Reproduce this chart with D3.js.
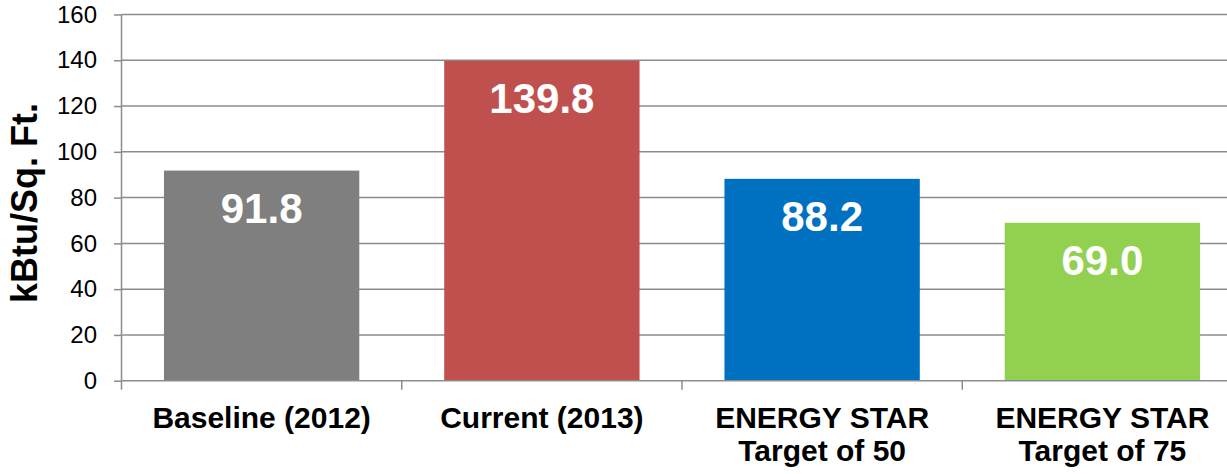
<!DOCTYPE html>
<html><head><meta charset="utf-8">
<script src="https://cdn.jsdelivr.net/npm/d3@7"></script>
<style>html,body{margin:0;padding:0;background:#fff;overflow:hidden}</style>
</head><body>
<svg id="c" width="1227" height="474"></svg>
<script>
const categories = [["Baseline (2012)"], ["Current (2013)"], ["ENERGY STAR", "Target of 50"], ["ENERGY STAR", "Target of 75"]];
const values = [91.8, 139.8, 88.2, 69.0];
const colors = ["#7f7f7f", "#c0504d", "#0070c0", "#92d050"];
const yTicks = [0, 20, 40, 60, 80, 100, 120, 140, 160];
const yLabel = "kBtu/Sq. Ft.";

(function() {
const svg = d3.select("#c");
const font = "'Liberation Sans', Arial, sans-serif";
const pL = 121.5, pR = 1242.5, pT = 14.5, pB = 380.7;
const x = d3.scaleBand().domain(d3.range(categories.length)).range([pL, pR]).paddingInner(0.303).paddingOuter(0.1515);
const y = d3.scaleLinear().domain([0, 160]).range([pB, pT]);
const axisColor = "#8c8c8c";

// gridlines
svg.append("g").selectAll("line").data(yTicks.filter(d => d > 0)).join("line")
  .attr("x1", pL).attr("x2", pR).attr("y1", d => y(d)).attr("y2", d => y(d))
  .attr("stroke", axisColor).attr("stroke-width", 1.5);

// bars
svg.append("g").selectAll("rect").data(values).join("rect")
  .attr("x", (d, i) => x(i)).attr("width", x.bandwidth())
  .attr("y", d => y(d)).attr("height", d => y(0) - y(d))
  .attr("fill", (d, i) => colors[i]);

// y axis
const yAxis = svg.append("g").attr("transform", `translate(${pL},0)`)
  .call(d3.axisLeft(y).tickValues(yTicks).tickSize(7.5).tickPadding(17).tickFormat(d3.format("d")));
yAxis.select(".domain").remove();
yAxis.selectAll("line").attr("stroke", axisColor).attr("stroke-width", 1.5);
yAxis.selectAll("text").attr("font-family", font).attr("font-size", 24).attr("fill", "#000");
svg.append("line").attr("x1", pL).attr("x2", pL).attr("y1", pT).attr("y2", pB)
  .attr("stroke", axisColor).attr("stroke-width", 1.5);

// x axis
svg.append("line").attr("x1", pL).attr("x2", pR).attr("y1", pB).attr("y2", pB)
  .attr("stroke", axisColor).attr("stroke-width", 1.5);
svg.append("g").selectAll("line").data(d3.range(categories.length + 1)).join("line")
  .attr("x1", i => pL + i * (pR - pL) / categories.length)
  .attr("x2", i => pL + i * (pR - pL) / categories.length)
  .attr("y1", pB).attr("y2", pB + 9)
  .attr("stroke", axisColor).attr("stroke-width", 1.5);

// category labels
const cl = svg.append("g").selectAll("text").data(categories).join("text")
  .attr("x", (d, i) => x(i) + x.bandwidth() / 2).attr("y", 428)
  .attr("text-anchor", "middle").attr("font-family", font).attr("font-weight", "bold")
  .attr("font-size", 30).attr("fill", "#000");
cl.each(function(d, i) {
  const t = d3.select(this);
  const cx = x(i) + x.bandwidth() / 2;
  d.forEach((line, j) => t.append("tspan").attr("x", cx).attr("dy", j === 0 ? 0 : 33).text(line));
});

// value labels
svg.append("g").selectAll("text").data(values).join("text")
  .attr("x", (d, i) => x(i) + x.bandwidth() / 2).attr("y", d => y(d) + 52)
  .attr("text-anchor", "middle").attr("font-family", font).attr("font-weight", "bold")
  .attr("font-size", 42).attr("fill", "#fff").text(d => d.toFixed(1));

// y label
svg.append("text").attr("transform", `translate(37,203) rotate(-90)`)
  .attr("text-anchor", "middle").attr("font-family", font).attr("font-weight", "bold")
  .attr("font-size", 36).attr("fill", "#000").text(yLabel);
})();
</script>
</body></html>
